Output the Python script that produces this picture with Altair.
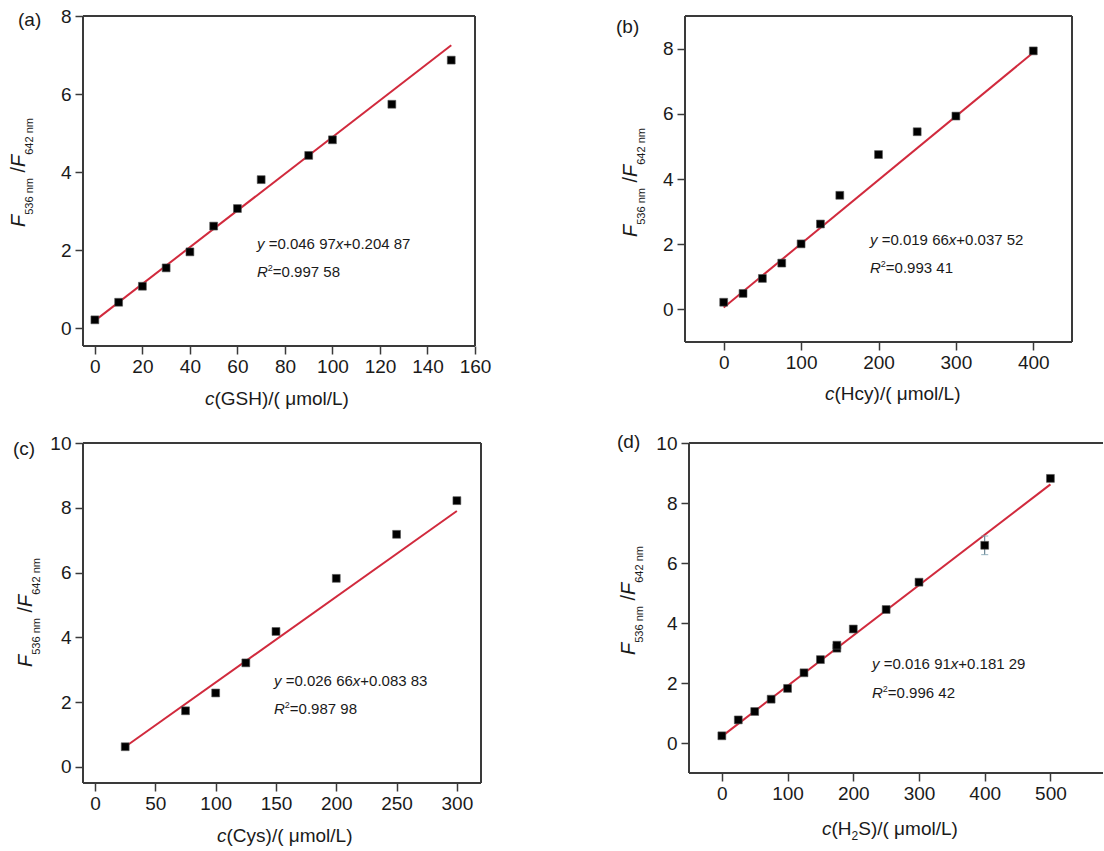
import altair as alt
import pandas as pd

FONT = "Liberation Sans"
INK = "#1a1a1a"
FRAME = "#3a3a3a"
RED = "#d12a3d"

# ---------------- data ----------------
a_x = [0, 10, 20, 30, 40, 50, 60, 70, 90, 100, 125, 150]
a_y = [0.22, 0.67, 1.08, 1.55, 1.96, 2.62, 3.07, 3.81, 4.43, 4.83, 5.74, 6.87]
a_fit_x = [0, 150]
a_fit_y = [0.20, 7.25]
a_xticks = [0, 20, 40, 60, 80, 100, 120, 140, 160]
a_yticks = [0, 2, 4, 6, 8]

b_x = [0, 25, 50, 75, 100, 125, 150, 200, 250, 300, 400]
b_y = [0.22, 0.49, 0.95, 1.42, 2.01, 2.62, 3.50, 4.75, 5.45, 5.93, 7.93]
b_fit_x = [0, 400]
b_fit_y = [0.06, 7.88]
b_xticks = [0, 100, 200, 300, 400]
b_yticks = [0, 2, 4, 6, 8]

c_x = [25, 75, 100, 125, 150, 200, 250, 300]
c_y = [0.62, 1.73, 2.28, 3.21, 4.18, 5.82, 7.18, 8.22]
c_fit_x = [25, 300]
c_fit_y = [0.62, 7.90]
c_xticks = [0, 50, 100, 150, 200, 250, 300]
c_yticks = [0, 2, 4, 6, 8, 10]

d_x = [0, 25, 50, 75, 100, 125, 150, 175, 175, 200, 250, 300, 400, 500]
d_y = [0.24, 0.77, 1.05, 1.46, 1.82, 2.34, 2.78, 3.16, 3.26, 3.80, 4.45, 5.36, 6.59, 8.82]
d_fit_x = [0, 500]
d_fit_y = [0.22, 8.62]
d_err_x = [400]
d_err_lo = [6.28]
d_err_hi = [6.90]
d_xticks = [0, 100, 200, 300, 400, 500]
d_yticks = [0, 2, 4, 6, 8, 10]

# ---------------- text helpers ----------------
WID = {' ': 0.278, '(': 0.333, ')': 0.333, '+': 0.584, '.': 0.278, '/': 0.278,
       '=': 0.584, 'C': 0.722, 'F': 0.611, 'G': 0.778, 'H': 0.722, 'L': 0.556,
       'R': 0.722, 'S': 0.667, 'c': 0.5, 'l': 0.222, 'm': 0.833, 'n': 0.556,
       'o': 0.556, 's': 0.5, 'x': 0.5, 'y': 0.5, 'μ': 0.576}


def width(t, size):
    return sum(WID.get(ch, 0.556) for ch in t) * size


def txt(s, x, y, size, italic=False, angle=0):
    kw = dict(text=s, align="left", baseline="alphabetic", font=FONT,
              fontSize=size, fontStyle="italic" if italic else "normal", color=INK)
    if angle:
        kw["angle"] = angle
    return alt.Chart(alt.Data(values=[{}])).mark_text(**kw).encode(
        x=alt.value(x), y=alt.value(y))


def rich(pieces, x0, y0, angle=0):
    out = []
    pos = 0.0
    for t, size, italic, shift in pieces:
        lead = len(t) - len(t.lstrip(" "))
        pos += lead * WID[' '] * size
        s = t.lstrip(" ")
        if angle == 0:
            out.append(txt(s, x0 + pos, y0 + shift, size, italic))
        else:
            out.append(txt(s, x0 + shift, y0 - pos, size, italic, angle=270))
        pos += width(s, size)
    return out


def rule(**enc):
    return alt.Chart(alt.Data(values=[{}])).mark_rule(
        color=FRAME, strokeWidth=2).encode(**{k: alt.value(v) for k, v in enc.items()})


def panel(W, H, xdom, ydom, xticks, yticks, px, py, fx, fy, label, lab_pos,
          ytitle_pos, xtitle_pieces, xtitle_pos, eq, r2, eq_pos,
          right=True, anchor=None, err=None):
    ax_x = alt.Axis(values=xticks, title=None, grid=False, domain=False,
                    tickSize=8, tickWidth=1.5, tickColor=FRAME, labelPadding=3,
                    labelFont=FONT, labelFontSize=19, labelColor=INK,
                    labelFlush=False, labelOverlap=False)
    ax_y = alt.Axis(values=yticks, title=None, grid=False, domain=False,
                    tickSize=8, tickWidth=1.5, tickColor=FRAME, labelPadding=4,
                    labelFont=FONT, labelFontSize=19, labelColor=INK,
                    labelFlush=False, labelOverlap=False)
    X = alt.X("x:Q", scale=alt.Scale(domain=xdom, nice=False, zero=False), axis=ax_x)
    Y = alt.Y("y:Q", scale=alt.Scale(domain=ydom, nice=False, zero=False), axis=ax_y)

    pts = alt.Chart(pd.DataFrame({"x": px, "y": py})).mark_point(
        shape="square", filled=True, size=62, color="#000000", opacity=1,
        stroke="#555555", strokeWidth=0.6).encode(x=X, y=Y)
    line = alt.Chart(pd.DataFrame({"x": fx, "y": fy})).mark_line(
        color=RED, strokeWidth=2).encode(x=X, y=Y)
    layers = [line]
    if err is not None:
        ex, lo, hi = err
        edf = pd.DataFrame({"x": ex, "y": lo, "y2": hi})
        layers.append(alt.Chart(edf).mark_rule(color="#4d6f80", strokeWidth=1).encode(
            x=X, y=Y, y2="y2:Q"))
        cdf = pd.DataFrame({"x": ex * 2, "y": lo + hi})
        layers.append(alt.Chart(cdf).mark_tick(color="#7fa3b0", orient="horizontal",
                                               size=7, thickness=1.2).encode(x=X, y=Y))
    layers.append(pts)
    # frame
    layers += [rule(x=0, x2=W, y=0), rule(x=0, x2=W, y=H), rule(x=0, y=0, y2=H)]
    if right:
        layers.append(rule(x=W, y=0, y2=H))
    # panel label
    layers.append(txt(label, lab_pos[0], lab_pos[1], 19))
    # y title (rotated)
    yt = [("F", 20, True, 0), ("536 nm", 11, False, 8), (" /", 20, False, 0),
          ("F", 20, True, 0), ("642 nm", 11, False, 8)]
    layers += rich(yt, ytitle_pos[0], ytitle_pos[1], angle=270)
    # x title
    layers += rich(xtitle_pieces, xtitle_pos[0], xtitle_pos[1])
    # equation
    layers += rich(eq, eq_pos[0], eq_pos[1])
    layers += rich(r2, eq_pos[0], eq_pos[2])
    if anchor is not None:
        layers.append(alt.Chart(alt.Data(values=[{}])).mark_rule(
            color="white", opacity=0, strokeWidth=1).encode(
            x=alt.value(anchor[0]), x2=alt.value(anchor[0] + 1), y=alt.value(anchor[1])))
    return alt.layer(*layers).properties(width=W, height=H)


def eq_pieces(a, b):
    return [("y", 15, True, 0), (" =" + a, 15, False, 0), ("x", 15, True, 0),
            ("+" + b, 15, False, 0)]


def r2_pieces(r):
    return [("R", 15, True, 0), ("2", 9, False, -6), ("=" + r, 15, False, 0)]


pa = panel(392, 330, [-5, 160], [-0.45, 8], a_xticks, a_yticks, a_x, a_y, a_fit_x, a_fit_y,
           "(a)", (-65, 10), (-58, 211),
           [("c", 19, True, 0), ("(GSH)/( μmol/L)", 19, False, 0)], (122, 389),
           eq_pieces("0.046 97", "0.204 87"), r2_pieces("0.997 58"), (174, 233, 261),
           anchor=(-83, -16))

pb = panel(387, 326, [-50, 450], [-1, 9], b_xticks, b_yticks, b_x, b_y, b_fit_x, b_fit_y,
           "(b)", (-69, 17), (-48, 221),
           [("c", 19, True, 0), ("(Hcy)/( μmol/L)", 19, False, 0)], (140, 384),
           eq_pieces("0.019 66", "0.037 52"), r2_pieces("0.993 41"), (185, 229, 257))

pc = panel(398, 340, [-10, 320], [-0.5, 10], c_xticks, c_yticks, c_x, c_y, c_fit_x, c_fit_y,
           "(c)", (-70, 12), (-51, 224),
           [("c", 19, True, 0), ("(Cys)/( μmol/L)", 19, False, 0)], (134, 399),
           eq_pieces("0.026 66", "0.083 83"), r2_pieces("0.987 98"), (191, 243, 271))

pd_ = panel(414, 330, [-50, 580], [-1, 10], d_xticks, d_yticks, d_x, d_y, d_fit_x, d_fit_y,
            "(d)", (-72, 5), (-54, 212),
            [("c", 19, True, 0), ("(H", 19, False, 0), ("2", 12, False, 5),
             ("S)/( μmol/L)", 19, False, 0)], (133, 392),
            eq_pieces("0.016 91", "0.181 29"), r2_pieces("0.996 42"), (183, 226, 255),
            right=False, err=(d_err_x, d_err_lo, d_err_hi))

row1 = alt.hconcat(pa, pb, spacing=210, bounds="flush")
row2 = alt.hconcat(pc, pd_, spacing=208, bounds="flush")
chart = alt.vconcat(row1, row2, spacing=427, bounds="flush").properties(
    padding={"left": 0, "top": 0, "right": 0, "bottom": 0},
    background="white",
).configure_view(stroke=None)

chart.save("out.html", embed_options={"renderer": "svg", "actions": False})
